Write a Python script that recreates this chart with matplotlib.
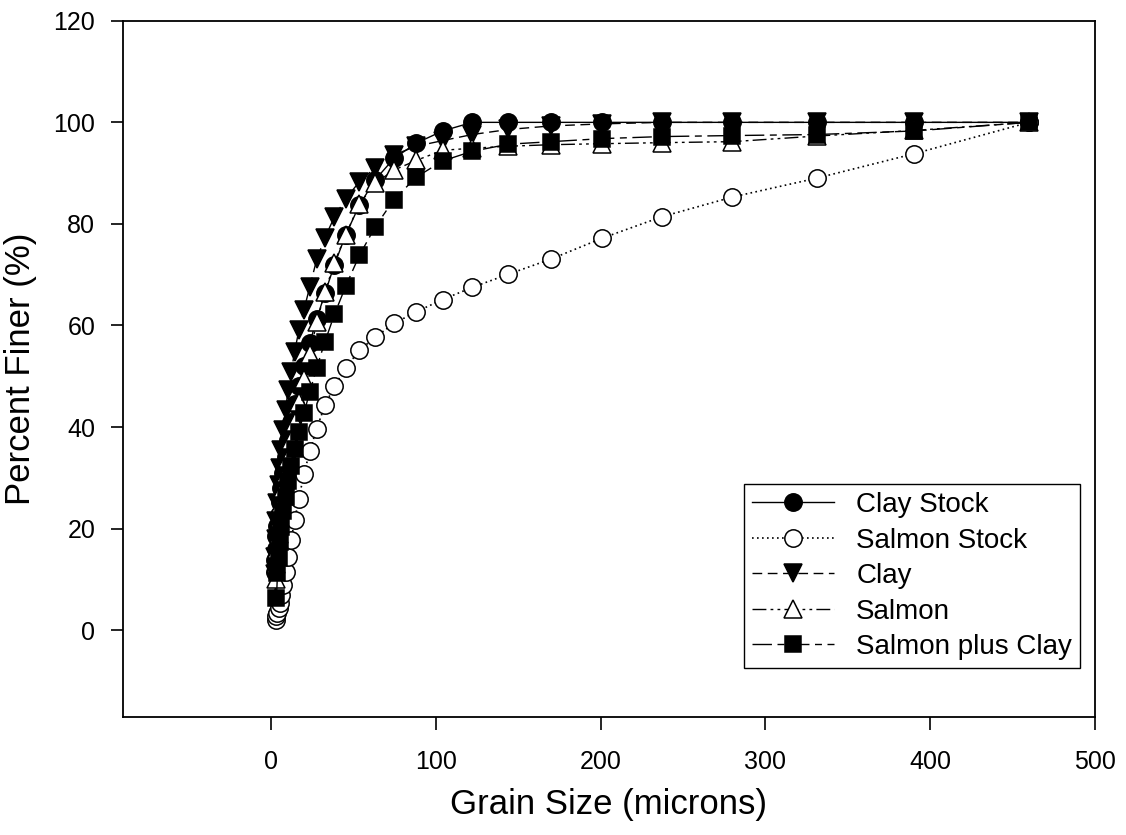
import numpy as np
import matplotlib.pyplot as plt

plt.rcParams['font.family'] = ['Liberation Sans', 'DejaVu Sans']

# grain size classes (microns), shared by all samples
grain = [2.0, 2.3, 2.7, 3.2, 3.8, 4.5, 5.3, 6.2, 7.3, 8.7,
         10.2, 12.1, 14.2, 16.8, 19.8, 23.4, 27.6, 32.6, 38.4, 45.3,
         53.5, 63.1, 74.5, 88.0, 104, 122, 144, 170, 201, 237,
         280, 331, 390, 460]

# cumulative percent finer
clay_stock = [11.4, 13.8, 16.0, 18.5, 20.5, 22.7, 25.2, 28.0, 31.0, 34.2,
              37.5, 41.0, 44.5, 48.0, 52.0, 56.5, 61.3, 66.3, 72.0, 77.9,
              83.7, 88.7, 92.9, 95.9, 98.3, 100, 100, 100, 100, 100,
              100, 100, 100, 100]
salmon_stock = [2.0, 2.7, 3.4, 4.3, 5.4, 6.9, 8.9, 11.5, 14.4, 17.7,
                21.7, 25.9, 30.7, 35.2, 39.7, 44.3, 48.1, 51.7, 55.1, 57.7,
                60.4, 62.7, 65.1, 67.5, 70.1, 73.1, 77.2, 81.4, 85.3, 89.0,
                93.8, 100]
clay = [11.0, 14.5, 18.0, 21.5, 25.0, 28.5, 32.0, 35.5, 39.4, 43.3,
        47.3, 50.9, 54.8, 59.1, 63.0, 67.6, 73.0, 77.3, 81.4, 85.0,
        88.3, 91.1, 93.6, 95.3, 96.4, 97.6, 98.6, 99.3, 99.7, 100,
        100, 100, 100, 100]
salmon = [10.0, 13.0, 16.0, 19.0, 22.0, 25.0, 28.0, 31.0, 34.0, 37.5,
          41.0, 45.0, 49.5, 54.4, 60.6, 66.6, 72.4, 77.9, 83.9, 88.0,
          90.6, 92.5, 94.5, 94.9, 95.3, 95.6, 95.8, 96.0, 96.2, 97.3,
          98.4, 100]
salmon_clay = [6.4, 11.2, 14.3, 17.3, 20.4, 23.4, 26.3, 29.3, 32.3, 35.6,
               39.1, 42.7, 46.9, 51.7, 56.8, 62.2, 67.8, 73.8, 79.4, 84.8,
               89.2, 92.4, 94.3, 95.7, 96.2, 96.8, 97.2, 97.4, 97.6, 98.3,
               100]

labels = ['Clay Stock', 'Salmon Stock', 'Clay', 'Salmon', 'Salmon plus Clay']

fig = plt.figure(figsize=(11.26, 8.35), dpi=100)
ax = fig.add_axes([0.1092, 0.1413, 0.8632, 0.8338])

ms = 12.5
mew = 1.1
ax.plot(grain, clay_stock, color='black', lw=1.0, ls='-',
        marker='o', ms=ms, mfc='black', mec='black', mew=mew, label=labels[0])
ax.plot(grain[2:], salmon_stock, color='black', lw=1.2, ls=(0, (1, 2)),
        marker='o', ms=ms, mfc='white', mec='black', mew=mew, label=labels[1])
ax.plot(grain, clay, color='black', lw=1.0, ls=(0, (7, 4)),
        marker='v', ms=13.5, mfc='black', mec='black', mew=mew, label=labels[2])
ax.plot(grain[2:], salmon, color='black', lw=1.0, ls=(0, (10, 3, 2, 3, 2, 3)),
        marker='^', ms=13.5, mfc='white', mec='black', mew=mew, label=labels[3])
ax.plot(grain[3:], salmon_clay, color='black', lw=1.0, ls=(0, (14, 4, 5, 4)),
        marker='s', ms=11, mfc='black', mec='black', mew=mew, label=labels[4])

ax.set_xlim(-90, 500)
ax.set_ylim(-17.1, 120)
ax.set_xticks([0, 100, 200, 300, 400, 500])
ax.set_yticks([0, 20, 40, 60, 80, 100, 120])

for s in ax.spines.values():
    s.set_linewidth(1.3)
ax.tick_params(axis='both', direction='out', length=9, width=1.2,
               labelsize=18, top=False, right=False)
ax.tick_params(axis='x', pad=15)
ax.tick_params(axis='y', pad=11)

ax.set_xlabel('Grain Size (microns)', fontsize=25, labelpad=10)
ax.set_ylabel('Percent Finer (%)', fontsize=25, labelpad=12)

leg = ax.legend(loc='lower right', bbox_to_anchor=(0.985, 0.07),
                borderaxespad=0, fontsize=20, handlelength=2.95,
                handletextpad=0.8, labelspacing=0.34, fancybox=False,
                edgecolor='black', framealpha=1, borderpad=0.3)
leg.get_frame().set_linewidth(1.0)

fig.savefig('out.png', dpi=100)
